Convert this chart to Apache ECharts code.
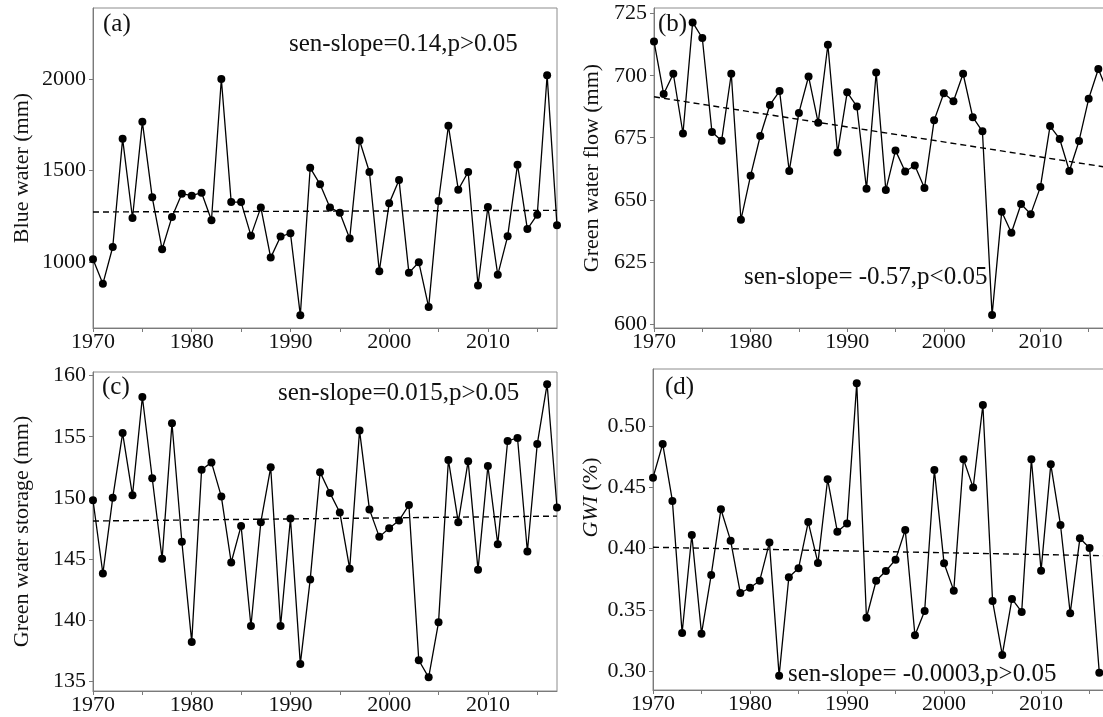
<!DOCTYPE html>
<html>
<head>
<meta charset="utf-8">
<title>Water components 1970-2017</title>
<script src="https://cdn.jsdelivr.net/npm/echarts@6/dist/echarts.min.js"></script>
<style>
    html, body { margin: 0; padding: 0; overflow: hidden; background: #fff; }
    /* 稍宽于窗口, 右侧两图的 2017 被裁掉 */
    #chart { width: 1112px; height: 717px; }
</style>
</head>
<body>
<div id="chart"></div>
<script>
// 年份
var years = [];
for (var y = 1970; y <= 2017; y++) years.push(y);

var tickYears = [1970, 1975, 1980, 1985, 1990, 1995, 2000, 2005, 2010, 2015];
var labelYears = [1970, 1980, 1990, 2000, 2010];

// (a) 蓝水
var blueWater = [1016, 882, 1083, 1673, 1241, 1766, 1354, 1071, 1247, 1374,
    1363, 1379, 1229, 2000, 1328, 1328, 1145, 1299, 1025, 1140,
    1158, 711, 1515, 1425, 1299, 1270, 1129, 1664, 1492, 951,
    1321, 1448, 942, 1000, 755, 1334, 1744, 1396, 1492, 873,
    1301, 931, 1141, 1532, 1181, 1259, 2020, 1201];
var blueTrend = [1274, 1283];
var blueTicks = [1000, 1500, 2000];

// (b) 绿水流
var greenFlow = [713.8, 692.6, 700.8, 676.7, 721.5, 715.2, 677.3, 673.8, 700.8, 641.9,
    659.7, 675.7, 688.2, 693.8, 661.6, 685.0, 699.7, 681.0, 712.5, 669.0,
    693.3, 687.6, 654.4, 701.3, 653.9, 669.9, 661.4, 663.8, 654.7, 682.0,
    692.9, 689.7, 700.8, 683.3, 677.6, 603.5, 645.2, 636.7, 648.3, 644.2,
    655.1, 679.7, 674.5, 661.6, 673.7, 690.7, 702.7, 693.0];
var flowTrend = [691.5, 663.0];
var flowTicks = [600, 625, 650, 675, 700, 725];

// (c) 绿水储量
var greenStorage = [149.8, 143.8, 150.0, 155.3, 150.2, 158.25, 151.6, 145.0, 156.1, 146.4,
    138.2, 152.3, 152.9, 150.1, 144.7, 147.7, 139.5, 148.0, 152.5, 139.5,
    148.3, 136.4, 143.3, 152.1, 150.4, 148.8, 144.2, 155.5, 149.05, 146.8,
    147.5, 148.15, 149.4, 136.7, 135.3, 139.8, 153.1, 148.0, 153.0, 144.1,
    152.6, 146.2, 154.65, 154.9, 145.6, 154.4, 159.3, 149.2];
var storageTrend = [148.1, 148.5];
var storageTicks = [135, 140, 145, 150, 155, 160];

// (d) GWI
var gwi = [0.4578, 0.4853, 0.4388, 0.331, 0.411, 0.3305, 0.3784, 0.432, 0.4064, 0.3637,
    0.368, 0.3737, 0.4048, 0.2962, 0.3765, 0.3838, 0.4216, 0.3882, 0.4565, 0.4137,
    0.4203, 0.5348, 0.3435, 0.3737, 0.3816, 0.3909, 0.4151, 0.3291, 0.349, 0.4641,
    0.3879, 0.3656, 0.4728, 0.4497, 0.5171, 0.3571, 0.3131, 0.3588, 0.3482, 0.4728,
    0.3819, 0.4687, 0.4192, 0.3471, 0.4083, 0.4004, 0.2986, 0.300];
var gwiTrend = [0.401, 0.394];
var gwiTicks = [0.30, 0.35, 0.40, 0.45, 0.50];

var FONT = 'Liberation Serif';
var AXIS_GREY = '#7a7a7a';

var panel = {
    /**
     * 年份与数值配对
     */
    pairs : function(vals) {
        var out = [];
        for (var i = 0; i < years.length; i++) {
            out.push([years[i], vals[i]]);
        }
        return out;
    },
    grid : function(left, top, right, bottom) {
        return {
            left : left,
            top : top,
            right : right,
            bottom : bottom,
            show : true,
            borderColor : '#8c8c8c',
            borderWidth : 1,
            backgroundColor : 'transparent'
        };
    },
    xAxis : function(gi) {
        return {
            type : 'value',
            gridIndex : gi,
            min : 1970,
            max : 2017,
            axisLine : { show : true, onZero : false, lineStyle : { color : AXIS_GREY, width : 1 } },
            axisTick : { show : true, customValues : tickYears, length : 4, lineStyle : { color : AXIS_GREY } },
            axisLabel : {
                customValues : labelYears,
                color : '#111',
                fontFamily : FONT,
                fontSize : 22,
                margin : 3,
                formatter : function(v) {
                    return String(v);
                }
            },
            splitLine : { show : false }
        };
    },
    yAxis : function(gi, min, max, ticks, name, gap, digits, pad) {
        return {
            type : 'value',
            gridIndex : gi,
            min : min,
            max : max,
            name : name,
            nameLocation : 'middle',
            nameGap : gap,
            nameTextStyle : {
                color : '#111',
                fontFamily : FONT,
                fontSize : 22,
                padding : [0, 0, 0, pad || 0],
                rich : {
                    i : { fontFamily : FONT, fontSize : 22, fontStyle : 'italic', color : '#111' },
                    n : { fontFamily : FONT, fontSize : 22, color : '#111' }
                }
            },
            axisLine : { show : true, onZero : false, lineStyle : { color : AXIS_GREY, width : 1 } },
            axisTick : { show : true, customValues : ticks, length : 4, lineStyle : { color : AXIS_GREY } },
            axisLabel : {
                customValues : ticks,
                color : '#111',
                fontFamily : FONT,
                fontSize : 22,
                margin : 7,
                formatter : function(v) {
                    return digits ? v.toFixed(digits) : String(v);
                }
            },
            splitLine : { show : false }
        };
    },
    line : function(gi, vals) {
        return {
            type : 'line',
            xAxisIndex : gi,
            yAxisIndex : gi,
            data : panel.pairs(vals),
            symbol : 'circle',
            symbolSize : 8,
            showAllSymbol : true,
            clip : false,
            itemStyle : { color : '#000' },
            lineStyle : { color : '#000', width : 1.3 },
            z : 3
        };
    },
    trend : function(gi, ends) {
        return {
            type : 'line',
            xAxisIndex : gi,
            yAxisIndex : gi,
            data : [[years[0], ends[0]], [years[years.length - 1], ends[1]]],
            symbol : 'none',
            lineStyle : { color : '#000', width : 1.4, type : [6, 4] },
            z : 2
        };
    },
    // 文字标注, y 为文字框顶部
    label : function(x, y, text) {
        return {
            type : 'text',
            left : x,
            top : y,
            style : {
                text : text,
                fontFamily : FONT,
                fontSize : 25,
                fill : '#111'
            },
            z : 10
        };
    }
};

var chart = echarts.init(document.getElementById('chart'), null, { renderer : 'canvas' });
var option = {
    animation : false,
    backgroundColor : '#fff',
    grid : [
        panel.grid(93, 8, 555, 389),
        panel.grid(654, 8, 4, 389),
        panel.grid(93, 372, 555, 26),
        panel.grid(653, 369, 3, 27)
    ],
    xAxis : [panel.xAxis(0), panel.xAxis(1), panel.xAxis(2), panel.xAxis(3)],
    yAxis : [
        panel.yAxis(0, 641, 2387, blueTicks, 'Blue water (mm)', 60, 0),
        panel.yAxis(1, 598.3, 727.3, flowTicks, 'Green water flow (mm)', 51, 0),
        panel.yAxis(2, 134.18, 160.3, storageTicks, 'Green water storage (mm)', 60, 0),
        panel.yAxis(3, 0.2845, 0.5465, gwiTicks, '{i|GWI}{n| (%)}', 51, 2, 64)
    ],
    series : [
        panel.trend(0, blueTrend), panel.line(0, blueWater),
        panel.trend(1, flowTrend), panel.line(1, greenFlow),
        panel.trend(2, storageTrend), panel.line(2, greenStorage),
        panel.trend(3, gwiTrend), panel.line(3, gwi)
    ],
    graphic : [
        panel.label(103, 12, '(a)'),
        panel.label(289, 32, 'sen-slope=0.14,p>0.05'),
        panel.label(658, 12, '(b)'),
        panel.label(744, 265, 'sen-slope= -0.57,p<0.05'),
        panel.label(102, 375, '(c)'),
        panel.label(278, 381, 'sen-slope=0.015,p>0.05'),
        panel.label(665, 375, '(d)'),
        panel.label(788, 662, 'sen-slope= -0.0003,p>0.05')
    ]
};
chart.setOption(option);
</script>
</body>
</html>
